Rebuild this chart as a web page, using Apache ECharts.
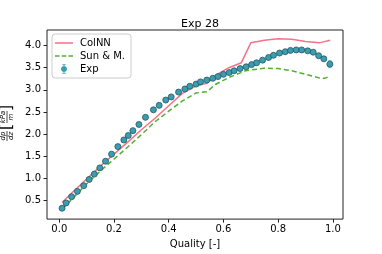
<!DOCTYPE html>
<html>
<head>
<meta charset="utf-8">
<script src="https://cdn.jsdelivr.net/npm/echarts@6/dist/echarts.min.js"></script>
<style>html,body{margin:0;padding:0;background:#fff;}#c{width:382px;height:254px;}</style>
</head>
<body>
<div id="c"></div>
<script>
// ---- data ----
const expX = [0.01,0.025,0.045,0.066,0.089,0.109,0.128,0.148,0.169,0.191,0.214,0.236,0.252,0.269,0.291,0.315,0.344,0.365,0.389,0.409,0.436,0.459,0.477,0.5,0.516,0.539,0.561,0.58,0.6,0.621,0.639,0.661,0.683,0.703,0.721,0.743,0.765,0.783,0.805,0.826,0.845,0.866,0.886,0.908,0.928,0.948,0.967,0.989];
const expY = [0.33,0.45,0.59,0.71,0.84,0.98,1.10,1.24,1.39,1.55,1.72,1.87,1.97,2.08,2.22,2.38,2.55,2.65,2.77,2.84,2.95,3.02,3.08,3.13,3.18,3.22,3.26,3.30,3.35,3.39,3.43,3.48,3.52,3.57,3.61,3.67,3.73,3.78,3.83,3.86,3.89,3.90,3.90,3.88,3.85,3.77,3.70,3.58];
const expErr = [0.02,0.02,0.02,0.02,0.02,0.02,0.02,0.02,0.02,0.02,0.02,0.02,0.02,0.02,0.02,0.02,0.02,0.02,0.02,0.02,0.02,0.02,0.02,0.02,0.02,0.02,0.02,0.02,0.02,0.02,0.02,0.02,0.02,0.02,0.02,0.02,0.02,0.02,0.02,0.02,0.02,0.02,0.02,0.02,0.02,0.03,0.04,0.08];
const colX = [0.01,0.05,0.1,0.15,0.2,0.25,0.3,0.35,0.4,0.45,0.5,0.54,0.58,0.62,0.665,0.70,0.75,0.8,0.85,0.9,0.95,0.99];
const colY = [0.46,0.70,0.99,1.28,1.55,1.82,2.10,2.36,2.64,2.92,3.09,3.15,3.36,3.50,3.61,4.06,4.12,4.15,4.14,4.09,4.06,4.12];
const sunX = [0.01,0.05,0.1,0.15,0.2,0.25,0.3,0.35,0.4,0.45,0.5,0.54,0.57,0.62,0.68,0.75,0.8,0.85,0.9,0.95,0.97,0.99];
const sunY = [0.30,0.56,0.88,1.17,1.44,1.71,1.99,2.28,2.52,2.75,2.93,2.96,3.12,3.28,3.43,3.49,3.48,3.43,3.35,3.27,3.26,3.31];
const xTicks = [0.0,0.2,0.4,0.6,0.8,1.0];
const yTicks = [0.5,1.0,1.5,2.0,2.5,3.0,3.5,4.0];

const FONT = 'DejaVu Sans';
const pink = '#f77189', green = '#50b131', teal = '#3a9db0', errCol = '#7ccfd8';

const expData = expX.map((x,i)=>[x, expY[i], expErr[i]]);
const chart = echarts.init(document.getElementById('c'), null, {renderer:'canvas'});

const pad = 'M -9 -5 L -8.99 -5 L -9 -4.99 Z M 9 5 L 8.99 5 L 9 4.99 Z ';
const expIcon = 'path://' + pad +
  'M 3 0 C 3 1.66 1.66 3 0 3 C -1.66 3 -3 1.66 -3 0 C -3 -1.66 -1.66 -3 0 -3 C 1.66 -3 3 -1.66 3 0 Z ' +
  'M -0.5 -5 L 0.5 -5 L 0.5 5 L -0.5 5 Z M -2 -5 L 2 -5 L 2 -4.4 L -2 -4.4 Z M -2 4.4 L 2 4.4 L 2 5 L -2 5 Z';
const solidIcon = 'path://' + pad + 'M -9 -0.75 L 9 -0.75 L 9 0.75 L -9 0.75 Z';
const dashIcon = 'path://' + pad + 'M -9 -0.75 L -4.5 -0.75 L -4.5 0.75 L -9 0.75 Z M -2.2 -0.75 L 2.2 -0.75 L 2.2 0.75 L -2.2 0.75 Z M 4.5 -0.75 L 9 -0.75 L 9 0.75 L 4.5 0.75 Z';

const fr = (t, x, y, size, italic) => ({
  type:'text', x:x, y:y,
  style:{text:t, x:0, y:0, fill:'#000', font:(italic?'italic ':'') + size + 'px "DejaVu Sans"', align:'center', verticalAlign:'middle', textAlign:'center', textVerticalAlign:'middle'}
});

chart.setOption({
  animation:false,
  backgroundColor:'#fff',
  title:{text:'Exp 28', left:176, top:14, textStyle:{fontFamily:FONT, fontSize:11, fontWeight:'normal', color:'#000'}},
  grid:{left:47, right:39, top:30, bottom:32, show:true, borderColor:'#222', borderWidth:1, backgroundColor:'transparent'},
  legend:{
    orient:'vertical', left:52, top:34, padding:[4,6,4,3], itemGap:3, itemWidth:18, itemHeight:10,
    borderColor:'#ccc', borderWidth:1, borderRadius:3, backgroundColor:'rgba(255,255,255,0.8)',
    textStyle:{fontFamily:FONT, fontSize:10, color:'#000', padding:[0,0,0,2]},
    data:[
      {name:'ColNN', icon:solidIcon, itemStyle:{color:pink, borderWidth:0}},
      {name:'Sun & M.', icon:dashIcon, itemStyle:{color:green, borderWidth:0}},
      {name:'Exp', icon:expIcon, itemStyle:{color:teal, borderWidth:0}}
    ]
  },
  xAxis:{
    type:'value', min:-0.045, max:1.037,
    name:'Quality [-]', nameLocation:'middle', nameGap:19,
    nameTextStyle:{fontFamily:FONT, fontSize:10, color:'#000'},
    axisLine:{show:false, onZero:false},
    axisTick:{show:true, length:3.5, lineStyle:{color:'#222'}, customValues:xTicks},
    axisLabel:{fontFamily:FONT, fontSize:10, color:'#000', margin:5, customValues:xTicks, formatter:v=>v.toFixed(1)},
    splitLine:{show:false}
  },
  yAxis:{
    type:'value', min:0.085, max:4.35,
    axisLine:{show:false, onZero:false},
    axisTick:{show:true, length:3.5, lineStyle:{color:'#222'}, customValues:yTicks},
    axisLabel:{fontFamily:FONT, fontSize:10, color:'#000', margin:6, customValues:yTicks, formatter:v=>v.toFixed(1)},
    splitLine:{show:false}
  },
  series:[
    {name:'ColNN', type:'line', data:colX.map((x,i)=>[x,colY[i]]), symbol:'none', lineStyle:{color:pink, width:1.5}, itemStyle:{color:pink}, z:3},
    {name:'Sun & M.', type:'line', data:sunX.map((x,i)=>[x,sunY[i]]), symbol:'none', lineStyle:{color:green, width:1.5, type:[5,3]}, itemStyle:{color:green}, z:3},
    {name:'Exp', type:'scatter', data:expData.map(d=>[d[0],d[1]]), symbol:'circle', symbolSize:6, z:5,
      itemStyle:{color:teal, borderColor:'#24555f', borderWidth:0.8, opacity:1}},
    {name:'Exp error', type:'custom', data:expData, z:4, itemStyle:{color:errCol},
      renderItem:function(params, api){
        const x = api.value(0), y = api.value(1), e = api.value(2);
        const top = api.coord([x, y+e]), bot = api.coord([x, y-e]);
        const c = 1.8;
        return {type:'group', children:[
          {type:'line', shape:{x1:top[0],y1:top[1],x2:bot[0],y2:bot[1]}, style:{stroke:errCol, lineWidth:1}},
          {type:'line', shape:{x1:top[0]-c,y1:top[1],x2:top[0]+c,y2:top[1]}, style:{stroke:errCol, lineWidth:1}},
          {type:'line', shape:{x1:bot[0]-c,y1:bot[1],x2:bot[0]+c,y2:bot[1]}, style:{stroke:errCol, lineWidth:1}}
        ]};
      },
      encode:{x:0, y:1}
    }
  ],
  graphic:[{
    type:'group', x:7, y:124, rotation:Math.PI/2, silent:true,
    children:[
      fr('dp', -12, -4, 7, true),
      {type:'line', shape:{x1:-17, y1:0, x2:-7, y2:0}, style:{stroke:'#000', lineWidth:0.7}},
      fr('dz', -12, 4.5, 7, true),
      fr('[', -3, 0, 16, false),
      fr('kPa', 7, -4, 7, true),
      {type:'line', shape:{x1:1, y1:0, x2:13, y2:0}, style:{stroke:'#000', lineWidth:0.7}},
      fr('m', 7, 4.5, 7, true),
      fr(']', 16, 0, 16, false)
    ]
  }]
});
</script>
</body>
</html>
